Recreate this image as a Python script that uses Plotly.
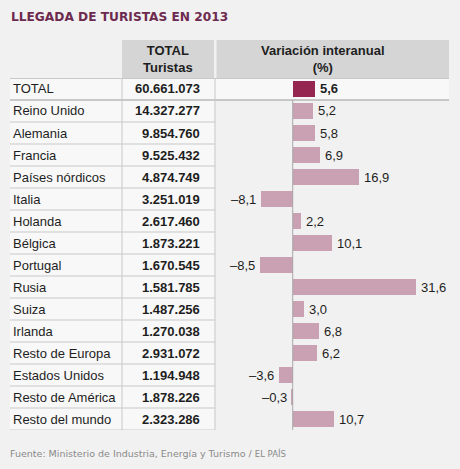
import plotly.graph_objects as go

countries = ["TOTAL", "Reino Unido", "Alemania", "Francia", "Países nórdicos", "Italia",
             "Holanda", "Bélgica", "Portugal", "Rusia", "Suiza", "Irlanda",
             "Resto de Europa", "Estados Unidos", "Resto de América", "Resto del mundo"]
tourists = ["60.661.073", "14.327.277", "9.854.760", "9.525.432", "4.874.749", "3.251.019",
            "2.617.460", "1.873.221", "1.670.545", "1.581.785", "1.487.256", "1.270.038",
            "2.931.072", "1.194.948", "1.878.226", "2.323.286"]
variation = [5.6, 5.2, 5.8, 6.9, 16.9, -8.1, 2.2, 10.1, -8.5, 31.6, 3.0, 6.8, 6.2, -3.6, -0.3, 10.7]

W, H = 460, 469
BG = "#f1f1f1"
CELL = "#f8f8f8"
HEAD = "#d5d5d5"
LINE = "#c8c8c8"
TXT = "#1e1e1e"

def px(x):
    return x / W

def py(y):
    return 1 - y / H

TOP, BOT = 78, 430
x_left, x_right = 218, 449
zero_px, ppu = 292.7, 3.9
xr = [(x_left - zero_px) / ppu, (x_right - zero_px) / ppu]

colors = ["#95264f"] + ["#c9a1b2"] * (len(countries) - 1)

fig = go.Figure()
fig.add_trace(go.Bar(
    y=countries, x=variation, orientation="h", marker=dict(color=colors, line=dict(width=0)),
    width=0.74, hoverinfo="skip", showlegend=False,
))

shapes = []
shapes.append(dict(type="rect", xref="paper", yref="paper", x0=px(10), x1=px(215),
                   y0=py(BOT), y1=py(TOP), fillcolor=CELL, line=dict(width=0), layer="below"))
shapes.append(dict(type="rect", xref="paper", yref="paper", x0=px(215), x1=px(449),
                   y0=py(100), y1=py(TOP), fillcolor=CELL, line=dict(width=0), layer="below"))
shapes.append(dict(type="rect", xref="paper", yref="paper", x0=px(122), x1=px(214),
                   y0=py(TOP), y1=py(40), fillcolor=HEAD, line=dict(width=0), layer="below"))
shapes.append(dict(type="rect", xref="paper", yref="paper", x0=px(216.5), x1=px(449),
                   y0=py(TOP), y1=py(40), fillcolor=HEAD, line=dict(width=0), layer="below"))
for i in range(len(countries)):
    x1 = 449 if i == 0 else 215
    shapes.append(dict(type="line", xref="paper", yref="y", x0=px(10), x1=px(x1),
                       y0=i + 0.5, y1=i + 0.5, line=dict(color=LINE if i else "#9a9a9a", width=1)))
shapes.append(dict(type="line", xref="paper", yref="y", x0=px(10), x1=px(449),
                   y0=-0.5, y1=-0.5, line=dict(color="#9a9a9a", width=1)))
for xv in (122, 215):
    shapes.append(dict(type="line", xref="paper", yref="y", x0=px(xv), x1=px(xv),
                       y0=-0.5, y1=len(countries) - 0.5, line=dict(color=LINE, width=1)))
shapes.append(dict(type="line", xref="x", yref="y", x0=0, x1=0, y0=0.5,
                   y1=len(countries) - 0.45, line=dict(color="#a8a8a8", width=1)))

ann = []
ann.append(dict(text="<b>LLEGADA DE TURISTAS EN 2013</b>", xref="paper", yref="paper",
                x=px(9), y=py(17), xanchor="left", yanchor="middle", showarrow=False,
                font=dict(family="DejaVu Sans", size=12.2, color="#6d2a4f")))
ann.append(dict(text="<b>TOTAL<br>Turistas</b>", xref="paper", yref="paper",
                x=px(168), y=py(59), xanchor="center", yanchor="middle", showarrow=False,
                font=dict(family="Liberation Sans", size=13, color=TXT)))
ann.append(dict(text="<b>Variación interanual<br>(%)</b>", xref="paper", yref="paper",
                x=px(323), y=py(59), xanchor="center", yanchor="middle", showarrow=False,
                font=dict(family="Liberation Sans", size=13, color=TXT)))
for i, (c, t, v) in enumerate(zip(countries, tourists, variation)):
    ann.append(dict(text=c, xref="paper", yref="y", x=px(11), y=c, xanchor="left",
                    yanchor="middle", showarrow=False,
                    font=dict(family="Liberation Sans", size=13, color=TXT)))
    ann.append(dict(text="<b>%s</b>" % t, xref="paper", yref="y", x=px(202), y=c,
                    xanchor="right", yanchor="middle", showarrow=False,
                    font=dict(family="Liberation Sans", size=13, color=TXT)))
    lab = ("%.1f" % abs(v)).replace(".", ",")
    lab = ("–" + lab) if v < 0 else lab
    if i == 0:
        lab = "<b>%s</b>" % lab
    ann.append(dict(text=lab, xref="x", yref="y", x=v, y=c,
                    xanchor="left" if v >= 0 else "right", xshift=3 if v >= 0 else -3,
                    yanchor="middle", showarrow=False,
                    font=dict(family="Liberation Sans", size=13, color=TXT)))
ann.append(dict(text="Fuente: Ministerio de Industria, Energía y Turismo / "
                     "<span style='font-size:8.5px'>EL PAÍS</span>",
                xref="paper", yref="paper", x=px(8), y=py(453), xanchor="left",
                yanchor="middle", showarrow=False,
                font=dict(family="DejaVu Sans", size=9.5, color="#8a8a8a")))

fig.update_layout(
    width=W, height=H, margin=dict(l=0, r=0, t=0, b=0),
    paper_bgcolor=BG, plot_bgcolor="rgba(0,0,0,0)",
    xaxis=dict(domain=[px(x_left), px(x_right)], range=xr, visible=False, fixedrange=True),
    yaxis=dict(domain=[py(BOT), py(TOP)], type="category", categoryorder="array",
               categoryarray=countries, range=[len(countries) - 0.5, -0.5],
               visible=False, fixedrange=True),
    shapes=shapes, annotations=ann, bargap=0,
)
fig.write_html("out.html", config={"displayModeBar": False},
               post_script="document.body.style.margin='0';document.body.style.background='%s';" % BG)
